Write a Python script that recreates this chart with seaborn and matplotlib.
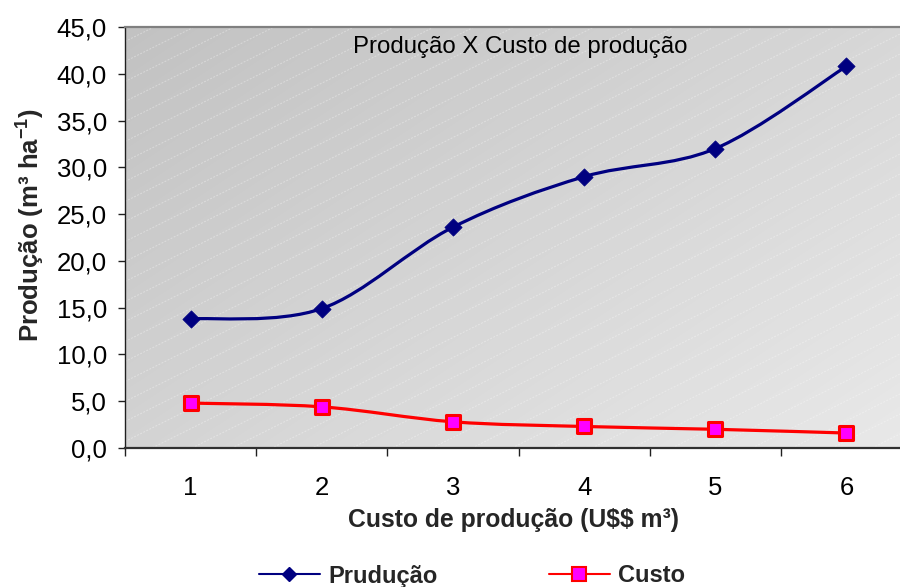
import numpy as np
import pandas as pd
import matplotlib
matplotlib.use("Agg")
import matplotlib.pyplot as plt
from matplotlib.path import Path
from matplotlib.patches import PathPatch
from matplotlib.lines import Line2D
import seaborn as sns

# ---- data ----
categorias = [1, 2, 3, 4, 5, 6]
producao = [13.8, 14.9, 23.6, 29.0, 32.0, 40.8]
custo = [4.8, 4.4, 2.8, 2.3, 2.0, 1.6]
y_ticks = [0, 5, 10, 15, 20, 25, 30, 35, 40, 45]
y_tick_labels = ["0,0", "5,0", "10,0", "15,0", "20,0", "25,0", "30,0", "35,0", "40,0", "45,0"]
x_tick_labels = ["1", "2", "3", "4", "5", "6"]

df = pd.DataFrame({"cat": categorias, "producao": producao, "custo": custo})

sns.set_theme(style="white")
plt.rcParams["font.family"] = ["Liberation Sans", "DejaVu Sans"]
plt.rcParams["mathtext.fontset"] = "custom"
plt.rcParams["mathtext.rm"] = "Liberation Sans"
plt.rcParams["mathtext.bf"] = "Liberation Sans:bold"

W_PX, H_PX = 900, 587
fig = plt.figure(figsize=(9, 5.87), dpi=100)
ax_left, ax_right, ax_top, ax_bottom = 125, 912, 27, 448
ax = fig.add_axes([ax_left / W_PX, 1 - ax_bottom / H_PX,
                   (ax_right - ax_left) / W_PX, (ax_bottom - ax_top) / H_PX])

# gradient background (dark grey top-left -> light grey bottom-right)
aw, ah = ax_right - ax_left, ax_bottom - ax_top
gx, gy = np.meshgrid(np.linspace(0, 1, 300), np.linspace(0, 1, 200))
t = (gx * aw * 0.8 + gy * ah * 1.2) / (aw * 0.8 + ah * 1.2)
val = (194 + t * 39) / 255.0
img = np.dstack([val, val, val])
ax.imshow(img, extent=(0, 1, 0, 1), transform=ax.transAxes, aspect="auto",
          origin="upper", zorder=0, interpolation="bilinear")

# faint diagonal hatch lines
for c in np.arange(-0.5 * aw, ah + 20, 20):
    xs = np.array([0, aw])
    ys = 0.5 * xs + c
    ax.plot(xs / aw, ys / ah, transform=ax.transAxes, color="white", alpha=0.35,
            lw=0.7, ls=(0, (2, 1.5)), zorder=0.5, clip_on=True)


def smooth_path(xv, yv):
    """Cubic Bezier path through the points (Catmull-Rom style smoothing)."""
    pts = np.column_stack([xv, yv]).astype(float)
    n = len(pts)
    verts = [pts[0]]
    codes = [Path.MOVETO]
    for i in range(n - 1):
        p0 = pts[i - 1] if i > 0 else pts[i]
        p1, p2 = pts[i], pts[i + 1]
        p3 = pts[i + 2] if i + 2 < n else pts[i + 1]
        c1 = p1 + (p2 - p0) / 6.0
        c2 = p2 - (p3 - p1) / 6.0
        verts += [c1, c2, p2]
        codes += [Path.CURVE4] * 3
    return Path(verts, codes)


navy = "#000080"
red = "#FF0000"
magenta = "#FF00FF"

ax.add_patch(PathPatch(smooth_path(df["cat"], df["producao"]), fill=False,
                       edgecolor=navy, lw=2.3, zorder=3))
ax.add_patch(PathPatch(smooth_path(df["cat"], df["custo"]), fill=False,
                       edgecolor=red, lw=2.3, zorder=3))

sns.scatterplot(data=df, x="cat", y="producao", marker="D", s=8.8 ** 2,
                color=navy, edgecolor=navy, linewidth=0.5, ax=ax, zorder=4,
                legend=False)
sns.scatterplot(data=df, x="cat", y="custo", marker="s", s=10.2 ** 2,
                color=magenta, edgecolor=red, linewidth=2.2, ax=ax, zorder=4,
                legend=False)

ax.set_xlim(0.5, 6.5)
ax.set_ylim(0, 45)
ax.set_xlabel("")
ax.set_ylabel("")

# category boundaries as ticks, labels centred on categories
ax.set_xticks(np.arange(0.5, 7.0, 1.0))
ax.set_xticklabels([])
ax.set_xticks(categorias, minor=True)
ax.set_xticklabels(x_tick_labels, minor=True)
ax.tick_params(axis="x", which="major", direction="out", length=6, width=1,
               color="#202020", bottom=True)
ax.tick_params(axis="x", which="minor", length=0, pad=20, labelsize=18.5,
               labelcolor="black")
ax.set_yticks(y_ticks)
ax.set_yticklabels(y_tick_labels)
ax.tick_params(axis="y", direction="out", length=5, width=1, color="#202020",
               left=True, pad=8, labelsize=18.5, labelcolor="black")

ax.spines["top"].set_visible(True)
ax.spines["top"].set_color("#808080")
ax.spines["top"].set_linewidth(1.6)
ax.spines["left"].set_color("#202020")
ax.spines["left"].set_linewidth(1.0)
ax.spines["bottom"].set_color("#303030")
ax.spines["bottom"].set_linewidth(1.6)
ax.spines["right"].set_visible(False)

ax.text((520 - ax_left) / aw, (ax_bottom - 47) / ah, "Produção X Custo de produção",
        transform=ax.transAxes, ha="center", va="center", fontsize=17.3,
        color="black", zorder=5)

fig.text(30 / W_PX, 1 - 225 / H_PX, r"Produção (m³ ha$^{\mathbf{-1}}$)",
         rotation=90, ha="center", va="center", fontsize=18.5, fontweight="bold")
fig.text(514 / W_PX, 1 - 520 / H_PX, r"Custo de produção (U\$\$ m³)",
         ha="center", va="center", fontsize=17.8, fontweight="bold")

handles = [
    Line2D([], [], color=navy, lw=1.5, marker="D", markersize=7.5,
           markerfacecolor=navy, markeredgecolor=navy),
    Line2D([], [], color=red, lw=1.5, marker="s", markersize=10,
           markerfacecolor=magenta, markeredgecolor=red, markeredgewidth=1.5),
]
leg = fig.legend(handles, ["Prudução", "Custo"], loc="center",
                 bbox_to_anchor=(472 / W_PX, 1 - 576 / H_PX), ncol=2,
                 frameon=False, handlelength=2.6, handletextpad=0.35,
                 columnspacing=4.7, prop={"size": 17, "weight": "bold"})

fig.savefig("out.png", dpi=100)
